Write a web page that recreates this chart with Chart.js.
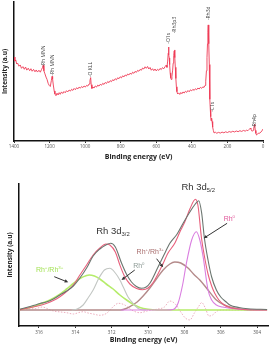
<!DOCTYPE html>
<html>
<head>
<meta charset="utf-8">
<script src="https://cdn.jsdelivr.net/npm/chart.js@4.4.0/dist/chart.umd.min.js"></script>
<style>
  html, body { margin: 0; padding: 0; background: #fff; }
  #wrap { position: relative; width: 271px; height: 346px; overflow: hidden; }
  #top { position: absolute; left: 0; top: 0; }
  #bot { position: absolute; left: 0; top: 162px; }
</style>
</head>
<body>
<div id="wrap">
  <canvas id="top" width="271" height="162"></canvas>
  <canvas id="bot" width="271" height="184"></canvas>
</div>
<script>
// ---- survey spectrum (top) ----
var surveyTicks = [0, 200, 400, 600, 800, 1000, 1200, 1400];
var surveyBE = [
  1400, 1395, 1390, 1385, 1380, 1372, 1365, 1358, 1350, 1342,
  1335, 1328, 1320, 1312, 1305, 1298, 1290, 1282, 1275, 1268,
  1260, 1252, 1245, 1240, 1236, 1232, 1226, 1220, 1214, 1208,
  1202, 1196, 1190, 1186, 1183, 1179, 1174, 1170, 1164, 1158,
  1152, 1146, 1140, 1133, 1126, 1119, 1112, 1105, 1098, 1090,
  1083, 1076, 1069, 1062, 1055, 1048, 1041, 1034, 1027, 1020,
  1013, 1006, 999, 992, 985, 978, 973, 969, 966, 962,
  957, 950, 943, 936, 929, 922, 915, 908, 901, 894,
  887, 880, 873, 866, 859, 852, 845, 838, 831, 824,
  817, 810, 803, 796, 789, 782, 775, 768, 761, 754,
  747, 740, 733, 726, 719, 712, 705, 698, 691, 684,
  677, 670, 663, 656, 649, 642, 635, 628, 621, 614,
  607, 600, 593, 586, 579, 572, 565, 558, 551, 545,
  540, 536, 533, 531, 529, 527, 525, 522, 519, 516,
  512, 508, 505, 502, 499, 497, 495, 493, 490, 487,
  484, 480, 474, 468, 462, 456, 450, 443, 436, 429,
  422, 415, 408, 401, 394, 387, 380, 373, 366, 359,
  352, 345, 338, 332, 326, 322, 318, 315, 312, 310,
  308, 306, 304, 302, 300, 298, 296, 294, 292, 290,
  288, 286, 284, 282, 279, 275, 268, 260, 250, 240,
  230, 220, 210, 200, 190, 180, 170, 160, 150, 140,
  130, 120, 110, 100, 92, 85, 78, 72, 68, 64,
  60, 56, 52, 49, 47, 45, 43, 40, 36, 30,
  24, 18, 12, 6, 0
];
var surveyInt = [
  60.4, 57.5, 58.3, 55.4, 56.1, 53.8, 54.7, 52.3, 53.5, 51.6,
  53.2, 51.0, 52.4, 50.6, 52.0, 50.2, 51.5, 49.8, 51.1, 49.6,
  50.9, 49.5, 51.5, 52.8, 54.5, 50.5, 48.3, 46.0, 44.2, 41.5,
  40.0, 39.2, 43.5, 46.5, 44.5, 40.3, 36.0, 33.8, 32.6, 34.4,
  33.1, 34.8, 33.6, 35.3, 34.2, 35.6, 34.7, 36.2, 35.3, 36.7,
  35.9, 37.2, 36.4, 37.8, 36.9, 38.3, 37.5, 38.8, 38.0, 39.2,
  38.4, 39.6, 38.8, 40.0, 39.5, 41.0, 43.5, 45.6, 40.5, 37.8,
  38.9, 38.1, 39.6, 38.8, 40.2, 39.5, 40.8, 40.1, 41.5, 40.7,
  42.1, 41.4, 42.8, 42.0, 43.4, 42.7, 44.1, 43.4, 44.8, 44.0,
  45.5, 44.8, 46.2, 45.4, 46.9, 46.1, 47.5, 46.8, 48.2, 47.5,
  48.8, 48.0, 49.5, 48.7, 50.1, 49.4, 50.8, 50.2, 51.5, 50.9,
  52.5, 51.8, 53.4, 52.3, 53.6, 51.8, 52.9, 50.9, 52.0, 50.6,
  51.8, 50.4, 51.6, 50.8, 52.2, 51.4, 52.8, 52.0, 53.4, 54.5,
  53.0, 57.5, 63.0, 67.6, 62.0, 59.7, 55.0, 49.0, 45.5, 44.3,
  46.5, 51.0, 56.0, 61.5, 64.8, 65.5, 60.0, 53.0, 45.0, 39.0,
  35.5, 33.8, 34.6, 33.5, 34.9, 34.0, 35.3, 34.5, 35.8, 35.0,
  36.3, 35.4, 36.8, 36.1, 37.2, 36.4, 37.6, 36.9, 38.1, 37.4,
  38.6, 37.9, 39.0, 38.5, 40.0, 43.0, 50.5, 60.0, 70.0, 78.0,
  83.5, 80.0, 70.0, 55.0, 42.0, 30.0, 22.3, 17.5, 14.5, 15.8,
  16.5, 14.0, 12.5, 10.0, 7.5, 5.8, 6.3, 5.6, 6.2, 5.7,
  6.4, 5.9, 6.6, 6.1, 6.8, 6.3, 7.0, 6.5, 7.2, 6.7,
  7.4, 6.9, 7.6, 7.1, 7.8, 7.4, 8.3, 9.2, 8.6, 7.4,
  7.0, 7.8, 9.4, 11.0, 12.2, 10.5, 7.6, 5.5, 4.3, 5.0,
  5.8, 5.6, 6.4, 7.3, 8.6
];
var peakNames = ['Rh MNN', 'Rh MNN', 'O KLL', 'O1s', 'Rh3p3', 'Rh3d', 'C1s', 'Rh4p'];
var peakBE = [1236, 1185, 968, 532, 496, 308, 281, 46];
var peakLabelY = [53.5, 47, 46, 70, 77.5, 87, 21, 9.5];

// ---- Rh 3d high resolution (bottom) ----
var rhTicks = [304, 306, 308, 310, 312, 314, 316];
var expBE = [317.05, 316.6, 316.2, 315.95, 315.6, 315.21, 314.85, 314.48, 314.11, 313.75,
  313.38, 313.02, 312.65, 312.32, 312.06, 311.8, 311.46, 311.19, 310.91, 310.64,
  310.36, 310.1, 309.9, 309.45, 309.1, 308.8, 308.4, 308.07, 307.7, 307.4,
  307.21, 307.05, 306.9, 306.7, 306.5, 306.24, 306.0, 305.7, 305.5, 305.0,
  304.5, 303.45];
var expInt = [0.8, 3, 5, 6.5, 8, 11, 15, 19, 24, 32,
  42, 54, 61, 65, 66.7, 63, 47, 36, 28, 23.5,
  21.7, 23, 26.7, 43, 56, 66.7, 76, 86.7, 98, 106,
  109.3, 97, 72, 50, 33, 20, 13, 8, 5, 2.5,
  1.3, 0.5];
var fitBE = [317.05, 316.6, 316.2, 315.95, 315.6, 315.21, 314.85, 314.48, 314.11, 313.75,
  313.38, 313.02, 312.65, 312.32, 312.1, 311.8, 311.55, 311.3, 311.0, 310.63,
  310.3, 310.0, 309.7, 309.26, 308.9, 308.53, 308.2, 307.98, 307.7, 307.39,
  307.25, 307.06, 306.88, 306.7, 306.5, 306.33, 306.1, 305.8, 305.5, 305.0,
  304.5, 303.45];
var fitInt = [0.3, 2, 3.5, 4.5, 6.5, 9.5, 13.3, 18.5, 25, 35,
  45, 55, 62, 66, 65, 58, 45, 34, 26, 21.5,
  20.3, 22, 28, 43, 57, 66.7, 80, 88, 101, 110.7,
  104, 72, 52, 36, 24, 16.7, 10, 5, 2.5, 1,
  0.3, 0];
var rh0aBE = [311.5, 309.0, 308.62, 308.35, 308.1, 307.89, 307.6, 307.34, 307.15, 306.97,
  306.7, 306.5, 306.24, 305.9, 305.5, 305.0, 304.5, 303.45];
var rh0aInt = [0, 0, 0.5, 6.7, 25, 46.7, 70, 78.3, 70, 53.3,
  20, 10, 5, 3, 1.7, 0.7, 0.2, 0];
var rh0bBE = [314.2, 313.9, 313.57, 313.3, 313.02, 312.7, 312.4, 312.1, 311.8, 311.55,
  311.37, 311.1, 310.9, 310.7, 310.45, 310.1];
var rh0bInt = [0, 1, 5, 12, 20, 32, 40, 41.7, 37, 30,
  23.3, 13, 8.3, 4, 0.7, 0];
var rh3bBE = [317.05, 316.6, 316.2, 315.8, 315.4, 315.0, 314.48, 314.11, 313.75, 313.38,
  313.24, 312.95, 312.65, 312.3, 311.92, 311.55, 311.18, 310.8, 310.45, 310.0,
  309.5, 303.45];
var rh3bInt = [0.5, 2, 4, 7, 10, 14, 21, 26.5, 31.5, 34.5,
  35, 34, 31, 26, 21, 15, 10, 5.5, 2.5, 0.7,
  0, 0];
var rh3aBE = [317.05, 311.5, 311.2, 310.9, 310.6, 310.27, 309.9, 309.54, 309.17, 308.8,
  308.53, 308.2, 307.8, 307.5, 307.15, 306.7, 306.24, 305.8, 305.5, 305.0,
  304.6, 304.3];
var rh3aInt = [0, 0, 1.5, 4.5, 8, 14, 22, 31, 40, 46,
  48, 47, 42, 36, 30, 20, 10, 5, 3, 1,
  0.3, 0];
var resBE = [317.05, 316.6, 316.2, 315.8, 315.5, 315.2, 314.8, 314.48, 314.11, 313.8,
  313.57, 313.3, 313.02, 312.65, 312.28, 311.92, 311.64, 311.28, 310.91, 310.45,
  309.99, 309.54, 309.1, 308.8, 308.5, 308.2, 307.95, 307.7, 307.45, 307.2,
  307.05, 306.85, 306.65, 306.45, 306.2, 305.9, 303.45];
var resInt = [0, 1, 1.5, 3, 1, -1, -2, -2.7, -4, -2.5,
  -1.7, -3, -4, -5.3, -3.3, 3.3, 6.7, 5, 0, -2.7,
  -0.7, 0.7, 3, 9, 6, -2, -8, -10, -3, 4,
  7.5, 2, -6, -5, -1, 0, 0];

function pts(xs, ys) {
  return xs.map(function (v, i) { return { x: v, y: ys[i] }; });
}

Chart.defaults.font.family = "'Open Sans', 'Liberation Sans', Arial, sans-serif";

// rotated peak names on the survey
var surveyLabels = {
  id: 'surveyLabels',
  afterDatasetsDraw: function (chart) {
    var ctx = chart.ctx, x = chart.scales.x, y = chart.scales.y;
    ctx.save();
    ctx.fillStyle = '#444';
    ctx.font = "5px 'Open Sans', sans-serif";
    ctx.textAlign = 'left';
    ctx.textBaseline = 'middle';
    peakNames.forEach(function (t, i) {
      ctx.save();
      ctx.translate(x.getPixelForValue(peakBE[i]), y.getPixelForValue(peakLabelY[i]));
      ctx.rotate(-Math.PI / 2);
      ctx.fillText('-' + t, 0, 0);
      ctx.restore();
    });
    ctx.restore();
  }
};

new Chart(document.getElementById('top'), {
  type: 'line',
  data: {
    datasets: [{
      data: pts(surveyBE, surveyInt),
      borderColor: '#ee3a55',
      borderWidth: 0.9,
      pointRadius: 0,
      tension: 0
    }]
  },
  options: {
    responsive: false,
    animation: false,
    devicePixelRatio: 1,
    layout: { padding: { top: 2, right: 8, left: 0, bottom: 0 } },
    plugins: { legend: { display: false }, tooltip: { enabled: false } },
    scales: {
      x: {
        type: 'linear', reverse: true, min: 0, max: 1400,
        afterBuildTicks: function (s) { s.ticks = surveyTicks.map(function (v) { return { value: v }; }); },
        afterFit: function (s) { s.height = 21; },
        ticks: { font: { size: 4.5 }, color: '#555', padding: 1, maxRotation: 0,
          callback: function (v) { return String(v); } },
        grid: { display: true, drawOnChartArea: false, tickLength: 2, color: '#333' },
        border: { color: '#111', width: 1.5 },
        title: { display: true, text: 'Binding energy (eV)', color: '#222',
          font: { size: 7, weight: 'bold' }, padding: { top: 0, bottom: 1 } }
      },
      y: {
        min: 0, max: 100,
        afterFit: function (s) { s.width = 14; },
        ticks: { display: false },
        grid: { display: false },
        border: { color: '#111', width: 1.5 },
        title: { display: true, text: 'Intensity (a.u)', color: '#222',
          font: { size: 6.5, weight: 'bold' }, padding: { top: 1, bottom: 0 } }
      }
    }
  },
  plugins: [surveyLabels]
});

// labels and arrows on the Rh 3d panel (mode 1 = superscript, 2 = subscript)
var rhNotes = [
  { parts: [['Rh 3d', 0], ['3/2', 2]], be: 312.85, v: 76, size: 9.5, color: '#333' },
  { parts: [['Rh 3d', 0], ['5/2', 2]], be: 308.16, v: 120, size: 9.5, color: '#333' },
  { parts: [['Rh', 0], ['0', 1]], be: 305.84, v: 89.3, size: 7, color: '#e0589a' },
  { parts: [['Rh', 0], ['+', 1], ['/Rh', 0], ['3+', 1]], be: 310.63, v: 55.7, size: 7, color: '#a86e6e' },
  { parts: [['Rh', 0], ['0', 1]], be: 310.82, v: 41.7, size: 7, color: '#8d9a95' },
  { parts: [['Rh', 0], ['+', 1], ['/Rh', 0], ['3+', 1]], be: 316.17, v: 38.3, size: 7, color: '#a6e35a' }
];
var rhArrows = [
  [305.65, 86.7, 306.94, 71.7],
  [310.73, 40, 311.46, 30],
  [309.53, 51.3, 309.17, 42.7],
  [315.16, 33.3, 314.39, 27.7]
];

var rhLabels = {
  id: 'rhLabels',
  afterDatasetsDraw: function (chart) {
    var ctx = chart.ctx, x = chart.scales.x, y = chart.scales.y;
    ctx.save();
    ctx.textAlign = 'left';
    ctx.textBaseline = 'alphabetic';
    rhNotes.forEach(function (n) {
      var cx = x.getPixelForValue(n.be), cy = y.getPixelForValue(n.v);
      ctx.fillStyle = n.color;
      n.parts.forEach(function (p) {
        var fs = p[1] ? n.size * 0.62 : n.size;
        ctx.font = fs + "px 'Liberation Sans', Arial, sans-serif";
        var dy = p[1] === 1 ? -n.size * 0.42 : (p[1] === 2 ? n.size * 0.22 : 0);
        ctx.fillText(p[0], cx, cy + dy);
        cx += ctx.measureText(p[0]).width;
      });
    });
    ctx.strokeStyle = '#333';
    ctx.fillStyle = '#333';
    ctx.lineWidth = 1;
    rhArrows.forEach(function (a) {
      var x1 = x.getPixelForValue(a[0]), y1 = y.getPixelForValue(a[1]);
      var x2 = x.getPixelForValue(a[2]), y2 = y.getPixelForValue(a[3]);
      var ang = Math.atan2(y2 - y1, x2 - x1), h = 4;
      ctx.beginPath();
      ctx.moveTo(x1, y1);
      ctx.lineTo(x2 - Math.cos(ang) * 2, y2 - Math.sin(ang) * 2);
      ctx.stroke();
      ctx.beginPath();
      ctx.moveTo(x2, y2);
      ctx.lineTo(x2 - h * Math.cos(ang - 0.45), y2 - h * Math.sin(ang - 0.45));
      ctx.lineTo(x2 - h * Math.cos(ang + 0.45), y2 - h * Math.sin(ang + 0.45));
      ctx.closePath();
      ctx.fill();
    });
    ctx.restore();
  }
};

function curve(xs, ys, color, width, dash) {
  return {
    data: pts(xs, ys),
    borderColor: color,
    borderWidth: width,
    borderDash: dash || [],
    pointRadius: 0,
    cubicInterpolationMode: 'monotone'
  };
}

new Chart(document.getElementById('bot'), {
  type: 'line',
  data: {
    datasets: [
      curve(expBE, expInt, '#6b756f', 1.1),
      curve(fitBE, fitInt, '#e8607c', 1.1),
      curve(rh0aBE, rh0aInt, '#da7ee0', 1.1),
      curve(rh0bBE, rh0bInt, '#c2c6c3', 1.1),
      curve(rh3bBE, rh3bInt, '#b5ec6a', 1.6),
      curve(rh3aBE, rh3aInt, '#b48a8a', 1.4),
      curve(resBE, resInt, '#eba6b8', 0.9, [1.5, 1.5])
    ]
  },
  options: {
    responsive: false,
    animation: false,
    devicePixelRatio: 1,
    layout: { padding: { top: 22, right: 3, left: 0, bottom: 0 } },
    plugins: { legend: { display: false }, tooltip: { enabled: false } },
    scales: {
      x: {
        type: 'linear', reverse: true, min: 303.4, max: 317.1,
        afterBuildTicks: function (s) { s.ticks = rhTicks.map(function (v) { return { value: v }; }); },
        afterFit: function (s) { s.height = 20; },
        ticks: { font: { size: 4.5 }, color: '#555', padding: 2, maxRotation: 0,
          callback: function (v) { return String(v); } },
        grid: { display: true, drawOnChartArea: false, tickLength: 2, color: '#333' },
        border: { color: '#111', width: 1.5 },
        title: { display: true, text: 'Binding energy (eV)', color: '#222',
          font: { size: 7, weight: 'bold' }, padding: { top: 0, bottom: 1.8 } }
      },
      y: {
        min: -16, max: 126,
        afterFit: function (s) { s.width = 19; },
        ticks: { display: false },
        grid: { display: false },
        border: { color: '#111', width: 1.5 },
        title: { display: true, text: 'Intensity (a.u)', color: '#222',
          font: { size: 6.5, weight: 'bold' }, padding: { top: 6, bottom: 0 } }
      }
    }
  },
  plugins: [rhLabels]
});
</script>
</body>
</html>
